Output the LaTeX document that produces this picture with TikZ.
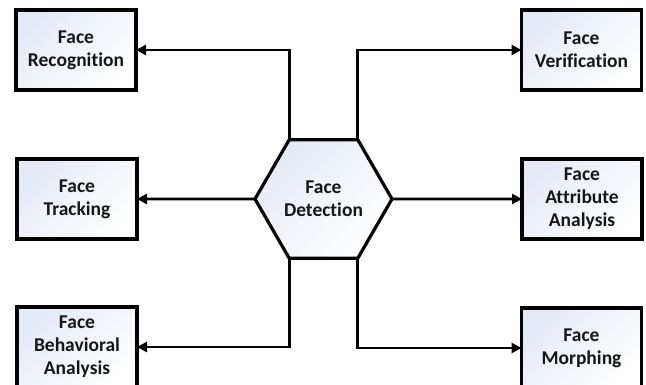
\documentclass[tikz,border=0pt]{standalone}
\usepackage{fontspec}
\setmainfont[Ligatures=NoCommon]{Carlito}
\usetikzlibrary{arrows.meta,shapes.geometric}
\definecolor{fillc}{HTML}{E4EAF6}
\definecolor{txt}{HTML}{161616}
\tikzset{
  x=1pt,y=1pt,
  lbl/.style={align=center, font=\fontsize{19.5}{23}\selectfont\bfseries, text=txt},
  box/.style={lbl, draw=black, line width=3.4pt, minimum width=120pt, minimum height=80pt,
    inner sep=0pt, outer sep=0pt,
    top color=fillc, bottom color=white, shading angle=45},
  hexa/.style={lbl, regular polygon, regular polygon sides=6, minimum size=137pt, draw=black,
    line width=3.2pt, inner sep=0pt, outer sep=0pt,
    top color=fillc, bottom color=white, shading angle=45},
  conn/.style={line width=2.8pt, -{Triangle[length=10pt,width=10pt]}}
}
\begin{document}
\begin{tikzpicture}
\useasboundingbox (0,0) rectangle (646,385);
\node[hexa] (det) at (323.5,186) {Face\\Detection};
\node[box] (rec) at (76,335) {Face\\Recognition};
\node[box] (ver) at (581.5,335) {Face\\Verification};
\node[box] (trk) at (77,186) {Face\\Tracking};
\node[box] (att) at (582,186) {Face\\Attribute\\Analysis};
\node[box] (beh) at (77,38) {Face\\Behavioral\\Analysis};
\node[box] (mor) at (581.5,37) {Face\\Morphing};
\draw[conn] (det.120) |- (rec.east);
\draw[conn] (det.60) |- (ver.west);
\draw[conn] (det.180) -- (trk.east);
\draw[conn] (det.0) -- (att.west);
\draw[conn] (det.240) |- (beh.east);
\draw[conn] (det.300) |- (mor.west);
\end{tikzpicture}
\end{document}
